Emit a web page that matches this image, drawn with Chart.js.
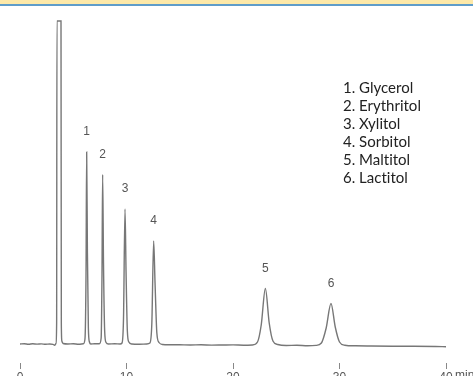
<!DOCTYPE html>
<html>
<head>
<meta charset="utf-8">
<script src="https://cdn.jsdelivr.net/npm/chart.js@4.4.1/dist/chart.umd.min.js"></script>
<style>
  html, body { margin: 0; padding: 0; background: #fff; overflow: hidden; }
  #wrap { position: relative; width: 473px; height: 376px; }
  #band { position: absolute; left: 0; top: 0; width: 473px; height: 4px;
          background: #fde9a9; border-bottom: 2px solid #5f9dca; }
  #compounds { position: absolute; left: 343px; top: 78px; margin: 0; padding: 0;
               list-style: none; font: 15px Lato, sans-serif; line-height: 18px; color: #222;
               font-variant-ligatures: none; }
</style>
</head>
<body>
<div id="wrap">
  <canvas id="chromChart" width="473" height="376"></canvas>
  <div id="band"></div>
  <ul id="compounds"></ul>
</div>
<script>
// retention time (min) and detector signal
const retentionTime = [
  0, 0.4, 0.8, 1.2, 1.6, 2.0, 2.4, 2.8, 3.1, 3.25, 3.38, 3.44, 3.47, 3.85, 3.88, 3.93, 4.05,
  4.5, 5.0, 5.5, 5.95, 6.1, 6.2, 6.26, 6.33, 6.42, 6.52, 6.65,
  7.0, 7.45, 7.62, 7.7, 7.76, 7.84, 7.95, 8.08, 8.3, 8.9, 9.4,
  9.58, 9.72, 9.86, 9.96, 10.08, 10.22, 10.5, 11.2, 11.9,
  12.2, 12.38, 12.55, 12.68, 12.85, 13.05, 13.4,
  14, 15, 16, 17, 18, 19, 20, 21, 21.8,
  22.3, 22.65, 23.04, 23.4, 23.75, 24.2, 25, 26, 27, 27.8,
  28.3, 28.75, 29.2, 29.6, 30.0, 30.5, 31.5, 33, 35, 37, 39, 40
];
const signal = [
  19, 19.3, 18.8, 19.2, 18.9, 19.1, 18.7, 19.0, 18.6, 17.8, 19.5, 40, 342, 342, 40, 22, 19.5,
  19, 19.3, 18.8, 19.2, 24, 90, 211, 110, 35, 21, 19,
  19.3, 19.2, 25, 90, 188.5, 100, 32, 20.5, 19, 19.2, 19,
  20, 45, 154, 90, 32, 21, 19, 18.7, 19,
  20, 40, 122, 80, 30, 20.5, 18.5,
  18.3, 18.2, 18, 18.2, 17.9, 18, 18.1, 17.8, 18,
  21, 38, 74.5, 40, 22, 18.5, 17.5, 17.8, 17.3, 17.6,
  20, 35, 59.5, 36, 21, 17.8, 17.2, 17, 16.8, 16.7, 16.5, 16.3
];

const peakNumbers = ["1", "2", "3", "4", "5", "6"];
const peakTimes = [6.26, 7.76, 9.86, 12.55, 23.04, 29.2];
const peakHeights = [211, 188.5, 154, 122, 74.5, 59.5];
const compounds = ["Glycerol", "Erythritol", "Xylitol", "Sorbitol", "Maltitol", "Lactitol"];

const tickLabels = ["0", "10", "20", "30", "40"];
const timeUnit = "min";

// legend list
document.getElementById("compounds").innerHTML =
  compounds.map((c, i) => "<li>" + peakNumbers[i] + ". " + c + "</li>").join("");

const peakLabelPlugin = {
  id: "peakLabels",
  afterDraw(chart) {
    const c = chart.ctx;
    const xs = chart.scales.x, ys = chart.scales.y;
    c.save();
    c.fillStyle = "#555";
    c.font = "12px 'Liberation Sans', Arial, sans-serif";
    c.textAlign = "center";
    c.textBaseline = "middle";
    peakNumbers.forEach((n, i) => {
      c.fillText(n, xs.getPixelForValue(peakTimes[i]), ys.getPixelForValue(peakHeights[i]) - 20);
    });
    // unit after the last tick
    c.textAlign = "left";
    c.textBaseline = "top";
    c.fillText(timeUnit, xs.getPixelForValue(40) + 9, xs.top + 7);
    c.restore();
  }
};

const ctx = document.getElementById("chromChart").getContext("2d");
const chromChart = new Chart(ctx, {
  type: "line",
  data: {
    datasets: [{
      data: retentionTime.map((t, i) => ({ x: t, y: signal[i] })),
      borderColor: "#777",
      borderWidth: 1.4,
      pointRadius: 0,
      fill: false,
      cubicInterpolationMode: "monotone"
    }]
  },
  options: {
    responsive: false,
    animation: false,
    devicePixelRatio: 1,
    layout: { padding: { left: 20, right: 27, top: 10, bottom: 0 } },
    plugins: { legend: { display: false }, tooltip: { enabled: false } },
    scales: {
      x: {
        type: "linear",
        min: 0,
        max: 40,
        afterFit: (s) => { s.height = 13; },
        border: { display: false },
        grid: { drawOnChartArea: false, tickLength: 6, color: "#888" },
        ticks: {
          stepSize: 10,
          padding: 1,
          color: "#555",
          font: { family: "'Liberation Sans', Arial, sans-serif", size: 12 },
          callback: (v) => tickLabels[v / 10]
        }
      },
      y: { display: false, min: 0, max: 353 }
    }
  },
  plugins: [peakLabelPlugin]
});
</script>
</body>
</html>
